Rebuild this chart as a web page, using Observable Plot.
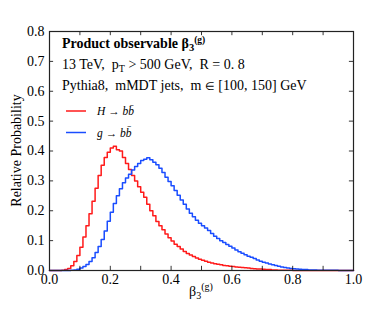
<!DOCTYPE html>
<html><head><meta charset="utf-8">
<script src="https://cdn.jsdelivr.net/npm/d3@7"></script>
<script src="https://cdn.jsdelivr.net/npm/@observablehq/plot@0.6"></script>
<style>body{margin:0;background:#fff}#c{width:392px;height:310px}</style>
</head><body><div id="c"></div>
<script>
const binWidth = 0.01;
const higgs = [0,0,0,0,0.001,0.003,0.007,0.016,0.030,0.050,
0.078,0.112,0.150,0.190,0.232,0.275,0.318,0.352,0.378,0.396,
0.410,0.416,0.404,0.400,0.378,0.358,0.338,0.318,0.300,0.280,
0.262,0.245,0.222,0.200,0.183,0.164,0.150,0.136,0.122,0.110,
0.099,0.088,0.080,0.072,0.064,0.057,0.052,0.047,0.042,0.038,
0.034,0.031,0.028,0.025,0.023,0.021,0.019,0.017,0.016,0.014,
0.013,0.012,0.011,0.010,0.009,0.008,0.007,0.006,0.005,0.005,
0.004,0.003,0.003,0.002,0.002,0.001,0.001,0.001,0.001,0.001,
0,0,0,0,0,0,0,0,0,0,0,0,0,0,0,0,0,0,0,0];
const gluon = [0,0,0,0,0,0,0,0.001,0.002,0.004,
0.008,0.013,0.020,0.030,0.043,0.060,0.080,0.104,0.132,0.165,
0.195,0.224,0.250,0.274,0.294,0.310,0.322,0.336,0.348,0.358,
0.368,0.372,0.377,0.371,0.362,0.354,0.342,0.328,0.312,0.298,
0.284,0.268,0.252,0.236,0.222,0.206,0.192,0.180,0.168,0.158,
0.150,0.142,0.134,0.124,0.115,0.107,0.100,0.094,0.087,0.081,
0.075,0.069,0.063,0.058,0.053,0.048,0.044,0.040,0.035,0.031,
0.028,0.025,0.022,0.019,0.017,0.014,0.012,0.010,0.008,0.007,
0.006,0.005,0.004,0.003,0.003,0.002,0.002,0.002,0.001,0.001,
0.001,0.001,0.001,0.001,0.001,0,0,0,0,0];
const seriesNames = ["H", "g"];
const seriesColors = ["#ff1a1a", "#1a4dff"];
const yTicks = [0.0,0.1,0.2,0.3,0.4,0.5,0.6,0.7,0.8];
const xTicks = [0,0.1,0.2,0.3,0.4,0.5,0.6,0.7,0.8,0.9,1.0];
const xLabels = [0.0,0.2,0.4,0.6,0.8,1.0];

function steps(vals, name) {
  const pts = vals.map((v, i) => ({x: i * binWidth, y: v, s: name}));
  pts.push({x: vals.length * binWidth, y: vals[vals.length - 1], s: name});
  return pts;
}
const data = [...steps(higgs, "H"), ...steps(gluon, "g")];
const font = "Liberation Serif, Times New Roman, serif";

function annotations(index, scales, values, dim) {
  const g = d3.create("svg:g").attr("font-family", font).attr("fill", "black").attr("text-anchor", "start");
  const x0 = dim.marginLeft + 13;
  const t1 = g.append("text").attr("x", x0).attr("y", 48).attr("font-size", 14).attr("font-weight", "bold");
  t1.append("tspan").text("Product observable β");
  t1.append("tspan").attr("font-size", 10.5).attr("dy", 3).text("3");
  t1.append("tspan").attr("font-size", 9.5).attr("dy", -8).text("(g)");
  const t2 = g.append("text").attr("x", x0).attr("y", 69).attr("font-size", 14);
  t2.append("tspan").text("13 TeV,  p");
  t2.append("tspan").attr("font-size", 10).attr("dy", 3).text("T");
  t2.append("tspan").attr("dy", -3).text(" > 500 GeV,  R = 0. 8");
  const t3 = g.append("text").attr("x", x0).attr("y", 89.5).attr("font-size", 14);
  t3.append("tspan").text("Pythia8,  mMDT jets,  m ");
  t3.append("tspan").attr("font-size", 11).text("∈");
  t3.append("tspan").text(" [100, 150] GeV");
  const legend = [["H → bb̄", 111], ["g → bb̄", 132.5]];
  legend.forEach(([lab, y], i) => {
    g.append("line").attr("x1", dim.marginLeft + 17).attr("x2", dim.marginLeft + 37)
      .attr("y1", y).attr("y2", y).attr("stroke", scales.color(seriesNames[i])).attr("stroke-width", 1.5);
    g.append("text").attr("x", dim.marginLeft + 48).attr("y", y + 4).attr("font-size", 11.5)
      .attr("font-style", "italic").text(lab);
  });
  const cx = (dim.marginLeft + dim.width - dim.marginRight) / 2;
  const xl = g.append("text").attr("x", cx - 12).attr("y", 296).attr("font-size", 14);
  xl.append("tspan").text("β");
  xl.append("tspan").attr("font-size", 10).attr("dy", 3).text("3");
  xl.append("tspan").attr("font-size", 10).attr("dy", -9).text("(g)");
  const cy = (dim.marginTop + dim.height - dim.marginBottom) / 2;
  g.append("text").attr("transform", `translate(21,${cy}) rotate(-90)`).attr("text-anchor", "middle")
    .attr("font-size", 14).text("Relative Probability");
  return g.node();
}

const chart = Plot.plot({
  width: 392, height: 310,
  marginLeft: 49, marginRight: 39, marginTop: 31, marginBottom: 40,
  style: {fontFamily: font, fontSize: "14px", background: "white"},
  x: {domain: [0, 1], label: null},
  y: {domain: [0, 0.8], label: null},
  color: {domain: seriesNames, range: seriesColors},
  marks: [
    Plot.line(data, {x: "x", y: "y", z: "s", stroke: "s", curve: "step-after", strokeWidth: 1.5}),
    Plot.ruleX(xTicks, {y1: 0, y2: 0.014, stroke: "black", strokeWidth: 0.8}),
    Plot.ruleX(xTicks, {y1: 0.786, y2: 0.8, stroke: "black", strokeWidth: 0.8}),
    Plot.ruleY(yTicks, {x1: 0, x2: 0.0135, stroke: "black", strokeWidth: 0.8}),
    Plot.ruleY(yTicks, {x1: 0.9865, x2: 1, stroke: "black", strokeWidth: 0.8}),
    Plot.axisX(xLabels, {tickSize: 0, tickPadding: 4, tickFormat: d3.format(".1f"), fontSize: 14, label: null}),
    Plot.axisY(yTicks, {tickSize: 0, tickPadding: 5, tickFormat: d3.format(".1f"), fontSize: 14, label: null}),
    Plot.frame({stroke: "#222", strokeWidth: 1.2}),
    annotations
  ]
});
document.getElementById("c").appendChild(chart);
</script>
</body></html>
